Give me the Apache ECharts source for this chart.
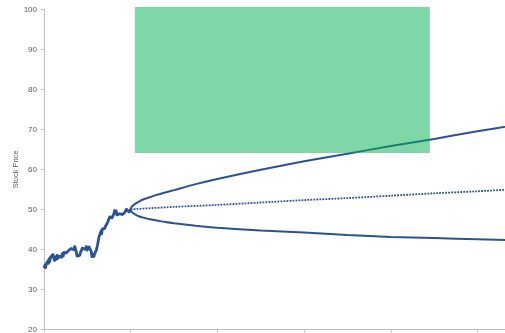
<!DOCTYPE html>
<html>
<head>
<meta charset="utf-8">
<script src="https://cdn.jsdelivr.net/npm/echarts@6/dist/echarts.min.js"></script>
<style>
  html, body { margin: 0; padding: 0; background: #ffffff; }
  #chart { width: 505px; height: 333px; }
</style>
</head>
<body>
<div id="chart"></div>
<script>
// Historical price path (time in years, price)
var histT = [0, 0.01, 0.018, 0.027, 0.036, 0.045, 0.052, 0.058, 0.066, 0.075, 0.085, 0.093, 0.104, 0.112, 0.123, 0.132, 0.141, 0.15, 0.16, 0.171, 0.181, 0.19, 0.2, 0.212, 0.222, 0.23, 0.238, 0.248, 0.258, 0.268, 0.278, 0.288, 0.296, 0.306, 0.316, 0.326, 0.335, 0.345, 0.355, 0.365, 0.372, 0.381, 0.39, 0.4, 0.412, 0.422, 0.432, 0.442, 0.452, 0.462, 0.475, 0.488, 0.498, 0.508, 0.52, 0.535, 0.545, 0.552, 0.558, 0.566, 0.575, 0.585, 0.595, 0.604, 0.612, 0.618, 0.623, 0.63, 0.636, 0.642, 0.65, 0.658, 0.665, 0.673, 0.68, 0.688, 0.695, 0.7, 0.71, 0.718, 0.727, 0.735, 0.742, 0.75, 0.758, 0.765, 0.772, 0.777, 0.786, 0.796, 0.805, 0.815, 0.824, 0.833, 0.842, 0.85, 0.858, 0.865, 0.874, 0.883, 0.892, 0.9, 0.91, 0.919, 0.928, 0.938, 0.95, 0.96, 0.97, 0.981, 0.99, 1.0];
var histPrice = [35.3, 36.0, 35.4, 36.4, 35.9, 37.1, 36.5, 37.6, 36.9, 38.0, 38.4, 37.5, 38.7, 37.8, 37.2, 38.1, 37.5, 38.5, 37.7, 38.3, 37.8, 38.6, 38.0, 38.9, 38.3, 39.2, 39.5, 38.7, 39.1, 39.5, 38.9, 39.8, 39.9, 39.3, 40.2, 40.5, 40.3, 39.9, 40.7, 40.6, 39.4, 38.3, 38.8, 38.2, 38.5, 39.3, 39.7, 40.3, 39.8, 40.5, 40.0, 40.7, 39.8, 40.0, 40.6, 40.2, 39.4, 38.2, 37.9, 38.8, 38.2, 38.9, 38.7, 39.8, 40.2, 41.2, 41.0, 42.6, 43.2, 43.0, 44.0, 44.6, 43.9, 45.1, 45.4, 44.8, 45.6, 45.2, 45.8, 45.4, 46.2, 46.8, 47.3, 47.0, 48.1, 48.4, 47.6, 48.6, 47.9, 47.6, 48.8, 49.7, 49.0, 49.6, 48.6, 48.2, 48.7, 48.1, 48.9, 49.3, 49.4, 48.7, 48.5, 48.3, 49.1, 49.6, 50.0, 49.5, 49.9, 49.3, 49.7, 50.0];

// Forecast band, measured from the start of the forecast
var fanT = [0, 0.01, 0.03, 0.06, 0.1, 0.15, 0.22, 0.3, 0.4, 0.5, 0.75, 1, 1.5, 2, 2.5, 3, 3.5, 4, 4.5];
var upperBand = [50, 50.6, 51.0, 51.5, 52.0, 52.5, 53.0, 53.6, 54.2, 54.8, 56.3, 57.6, 59.9, 62.0, 63.9, 65.8, 67.6, 69.5, 71.3];
var lowerBand = [50, 49.4, 49.0, 48.6, 48.2, 47.9, 47.5, 47.2, 46.8, 46.5, 45.9, 45.4, 44.7, 44.2, 43.6, 43.1, 42.8, 42.5, 42.2];

// Expected price path
var midT = [0, 0.5, 1, 1.5, 2, 2.5, 3, 3.5, 4, 4.5];
var midBand = [50, 50.6, 51.1, 51.7, 52.3, 52.8, 53.4, 54.0, 54.5, 55.1];

var forecastStart = 1;
var yMin = 20, yMax = 100, yStep = 10;
var xMax = 5.34;

// Highlight box: [time from, price top, time to, price bottom]
var highlightBox = [1.048, 100.6, 4.45, 64.1];

function pairs(ts, vs, offset) {
  return ts.map(function (t, i) { return [t + (offset || 0), vs[i]]; });
}

var lineBlue = '#2c5391';
var axisGray = '#bfbfbf';
var labelGray = '#595959';
var fontFam = 'Liberation Sans, Arial, sans-serif';

var chart = echarts.init(document.getElementById('chart'), null, { renderer: 'canvas' });
chart.setOption({
  animation: false,
  backgroundColor: '#ffffff',
  grid: { left: 44, right: -2, top: 9.3, bottom: 3.7, containLabel: false, outerBoundsMode: 'none' },
  xAxis: {
    type: 'value',
    min: 0,
    max: xMax,
    interval: 1,
    axisLine: { show: true, lineStyle: { color: axisGray, width: 1 } },
    axisTick: { show: true, length: 3, lineStyle: { color: axisGray } },
    axisLabel: { show: false },
    splitLine: { show: false }
  },
  yAxis: {
    type: 'value',
    min: yMin,
    max: yMax,
    interval: yStep,
    name: 'Stock Price',
    nameLocation: 'middle',
    nameGap: 24,
    nameMoveOverlap: false,
    nameTextStyle: { color: labelGray, fontSize: 7.5, fontFamily: fontFam },
    axisLine: { show: true, lineStyle: { color: axisGray, width: 1 } },
    axisTick: { show: true, length: 3, lineStyle: { color: axisGray } },
    axisLabel: { color: labelGray, fontSize: 8, fontFamily: fontFam, margin: 7 },
    splitLine: { show: false }
  },
  series: [
    {
      name: 'History',
      type: 'line',
      data: pairs(histT, histPrice),
      showSymbol: false,
      lineStyle: { color: lineBlue, width: 2.8, join: 'round' },
      z: 3
    },
    {
      name: 'Upper',
      type: 'line',
      data: pairs(fanT, upperBand, forecastStart),
      smooth: 0.3,
      showSymbol: false,
      lineStyle: { color: lineBlue, width: 2 },
      z: 2
    },
    {
      name: 'Lower',
      type: 'line',
      data: pairs(fanT, lowerBand, forecastStart),
      smooth: 0.3,
      showSymbol: false,
      lineStyle: { color: lineBlue, width: 2 },
      z: 2
    },
    {
      name: 'Expected',
      type: 'line',
      data: pairs(midT, midBand, forecastStart),
      smooth: 0.3,
      showSymbol: false,
      lineStyle: { color: lineBlue, width: 1.8, type: [1.8, 1.2] },
      z: 2
    },
    {
      name: 'Box',
      type: 'custom',
      clip: false,
      silent: true,
      z: 10,
      data: [highlightBox],
      encode: { x: [0, 2], y: [1, 3] },
      renderItem: function (params, api) {
        var p0 = api.coord([api.value(0), api.value(1)]);
        var p1 = api.coord([api.value(2), api.value(3)]);
        return {
          type: 'rect',
          shape: { x: p0[0], y: p0[1], width: p1[0] - p0[0], height: p1[1] - p0[1] },
          style: { fill: 'rgba(0,176,80,0.5)' }
        };
      }
    }
  ]
});
</script>
</body>
</html>
